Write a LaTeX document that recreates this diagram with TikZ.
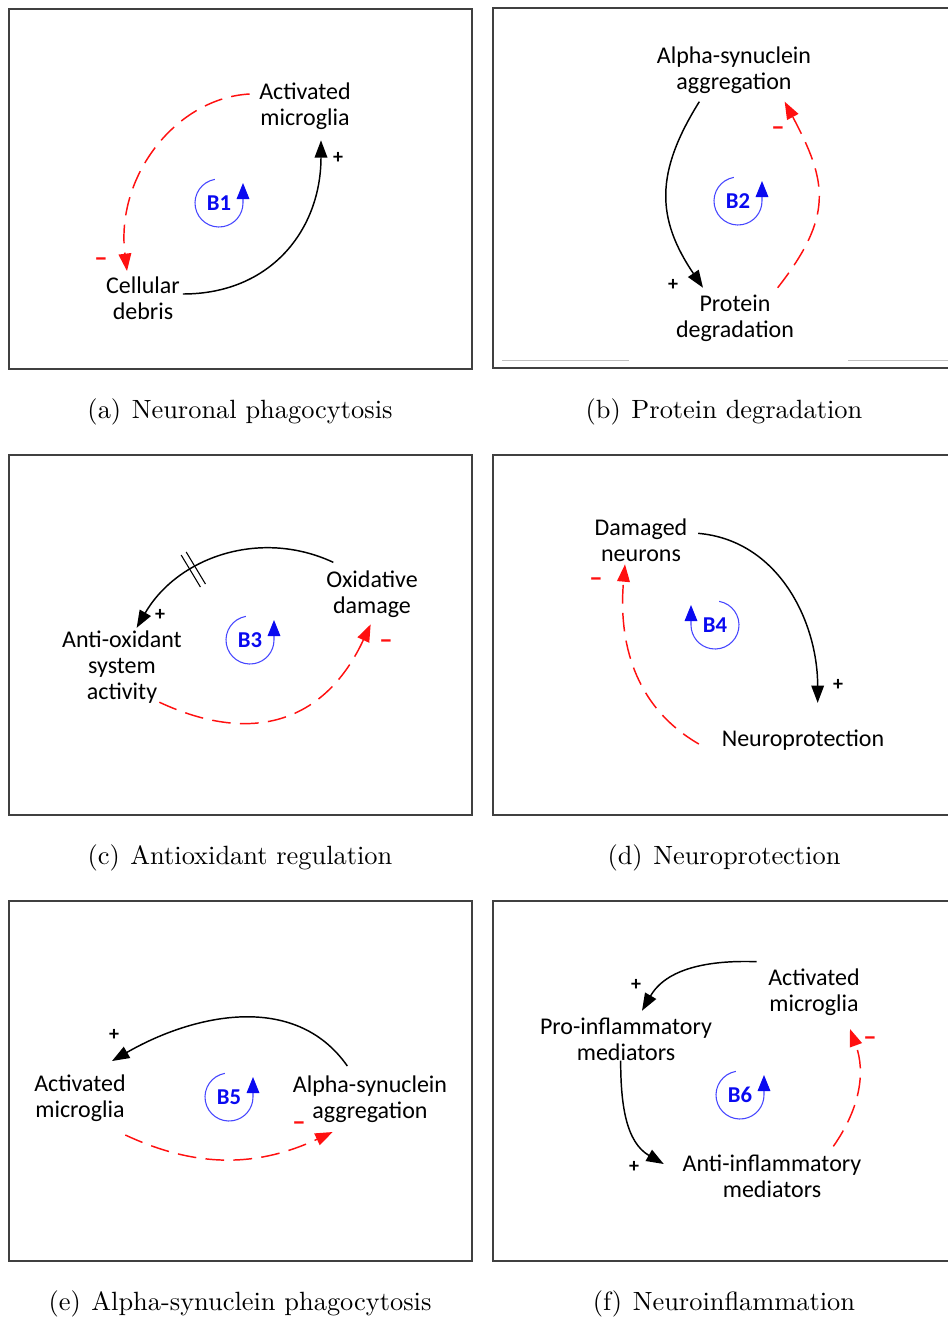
\documentclass[tikz,border=0pt]{standalone}
\usepackage{fontspec}
\usepackage{graphicx}
\newfontfamily\cldfont{Carlito}
\usepackage{xcolor}
\definecolor{cldRed}{HTML}{FF1010}
\definecolor{cldBlue}{HTML}{0A0AF0}
\definecolor{cldLoop}{HTML}{4646FF}
\definecolor{cldFrame}{HTML}{404040}
\usetikzlibrary{arrows.meta, decorations.markings}
\newcommand{\subcaptext}[1]{\scalebox{1.98}{\fontsize{10}{12}\selectfont #1}}

\begin{document}
\begin{tikzpicture}[
  x=0.75pt, y=0.75pt,
  var/.style={font=\cldfont\fontsize{18}{19.5}\selectfont, align=center, inner sep=2pt},
  subcap/.style={inner sep=1pt},
  frame/.style={draw=cldFrame, line width=1.1pt},
  poslink/.style={-{Triangle[length=13pt,width=9.5pt]}, line width=1.1pt},
  neglink/.style={-{Triangle[length=13pt,width=9.5pt]}, draw=cldRed, line width=1.1pt,
              dash pattern=on 14pt off 7pt},
  plus/.style={font=\cldfont\bfseries\fontsize{15}{15}\selectfont},
  minus/.style={text=cldRed, font=\cldfont\bfseries\fontsize{20}{20}\selectfont},
  loopc/.style={draw=cldLoop, line width=0.8pt, -{Triangle[length=12pt,width=9.5pt,color=cldBlue]}},
  looptxt/.style={text=cldBlue, font=\cldfont\bfseries\fontsize{17}{17}\selectfont},
  delay/.style={postaction={decorate}, decoration={markings, mark=at position 0.64 with
                {\draw[-, line width=0.8pt] (-2.2pt,-14pt) -- (-2.2pt,14pt) (2.2pt,-14pt) -- (2.2pt,14pt);}}}
]
\useasboundingbox (0,0) rectangle (948,-1318);
\clip (0,0) rectangle (948,-1318);

% panel frames
\foreach \x/\y in {9/-9, 493/-8, 9/-455, 493/-455, 9/-901, 493/-901}
  \draw[frame] (\x,\y) rectangle ++(463,-360);
\draw[gray!50, line width=0.6pt] (502,-360) -- (629,-360) (848,-360) -- (948,-360);

% (a) neuronal phagocytosis
\node[var] (am1) at (305,-106) {Activated\\microglia};
\node[var] (cd1) at (143,-298) {Cellular\\debris};
\draw[poslink] ([yshift=3pt]cd1.east) to[out=0, in=-90, looseness=1.1] ([xshift=12pt,yshift=-6pt]am1.south);
\draw[neglink] ([xshift=-5pt,yshift=9pt]am1.west) .. controls +(183:72) and +(97:97) .. ([xshift=-12pt,yshift=2pt]cd1.north);
\node[plus] (p1) at (338,-158) {+};
\node[minus] (m1) at (101,-262) {–};

% (b) protein degradation
\node[var] (as2) at (734,-70) {Alpha-synuclein\\aggregation};
\node[var] (pd2) at (735,-318) {Protein\\degradation};
\draw[poslink] ([xshift=-26pt,yshift=-4pt]as2.south) to[out=-122, in=124, looseness=1.15] ([xshift=-24pt,yshift=3pt]pd2.north);
\draw[neglink] ([xshift=32pt,yshift=3pt]pd2.north) to[out=52, in=-62, looseness=1.25] ([xshift=38pt,yshift=-4pt]as2.south);
\node[plus] (p2) at (673,-285) {+};
\node[minus] (m2) at (778,-131) {–};

% (c) antioxidant regulation
\node[var] (od3) at (372,-594) {Oxidative\\damage};
\node[var] (ao3) at (122,-667) {Anti-oxidant\\system\\activity};
\draw[poslink, delay] ([xshift=-29pt,yshift=4pt]od3.north) to[out=155, in=60] ([xshift=11pt]ao3.north);
\draw[neglink] ([xshift=28pt,yshift=3pt]ao3.south) to[out=-25, in=-115, looseness=1.2] ([xshift=-1pt,yshift=-3pt]od3.south);
\node[plus] (p3) at (160,-615) {+};
\node[minus] (m3) at (386,-644) {–};

% (d) neuroprotection
\node[var] (dn4) at (641,-540) {Damaged\\neurons};
\node[var] (np4) at (803,-740) {Neuroprotection};
\draw[poslink] ([xshift=6pt,yshift=5pt]dn4.east) to[out=-5, in=90] ([xshift=11pt,yshift=18pt]np4.north);
\draw[neglink] ([xshift=-15pt,yshift=-3pt]np4.west) to[out=150, in=-95] ([xshift=-12pt]dn4.south);
\node[plus] (p4) at (838,-685) {+};
\node[minus] (m4) at (596,-582) {–};

% (e) alpha-synuclein phagocytosis
\node[var] (am5) at (80,-1098) {Activated\\microglia};
\node[var] (as5) at (370,-1099) {Alpha-synuclein\\aggregation};
\draw[poslink] ([xshift=-17pt,yshift=5pt]as5.north) to[out=125, in=30] ([xshift=24pt,yshift=8pt]am5.north);
\draw[neglink] ([xshift=34pt,yshift=-8pt]am5.south) to[out=-25, in=-155] ([xshift=-28pt,yshift=-5pt]as5.south);
\node[plus] (p5) at (114,-1035) {+};
\node[minus] (m5) at (299,-1126) {–};

% (f) neuroinflammation
\node[var] (am6) at (814,-992) {Activated\\microglia};
\node[var] (pi6) at (626,-1039) {Pro-inflammatory\\mediators};
\node[var] (ai6) at (772,-1176) {Anti-inflammatory\\mediators};
\draw[poslink] ([xshift=-43pt,yshift=3pt]am6.north) to[out=178, in=60] ([xshift=12pt,yshift=3pt]pi6.north);
\draw[poslink] ([xshift=-4pt,yshift=2pt]pi6.south) to[out=-90, in=150] ([xshift=-12pt,yshift=9pt]ai6.west);
\draw[neglink] ([xshift=46pt,yshift=4pt]ai6.north) to[out=55, in=-70] ([xshift=27pt,yshift=-8pt]am6.south);
\node[plus] (p6a) at (636,-985) {+};
\node[plus] (p6b) at (634,-1167) {+};
\node[minus] (m6) at (870,-1041) {–};

% loop markers
\foreach \cx/\cy/\lbl in {219/-203/B1, 738/-201/B2, 250/-640/B3, 229/-1097/B5, 740/-1095/B6}{
  \node[looptxt] (loop\lbl) at (\cx,\cy) {\lbl};
  \draw[loopc] (loop\lbl.center) ++(100:24) arc (100:360:24) -- ++(0,20);
}
\node[looptxt] (loopB4) at (715,-625) {B4};
\draw[loopc] (loopB4.center) ++(80:24) arc (80:-180:24) -- ++(0,20);

% captions
\node[subcap] (capa) at (240,-412) {\subcaptext{(a)\hspace{0.4em}Neuronal phagocytosis}};
\node[subcap] (capb) at (724,-412) {\subcaptext{(b)\hspace{0.4em}Protein degradation}};
\node[subcap] (capc) at (240,-858) {\subcaptext{(c)\hspace{0.4em}Antioxidant regulation}};
\node[subcap] (capd) at (724,-858) {\subcaptext{(d)\hspace{0.4em}Neuroprotection}};
\node[subcap] (cape) at (240,-1304) {\subcaptext{(e)\hspace{0.4em}Alpha-synuclein phagocytosis}};
\node[subcap] (capf) at (724,-1304) {\subcaptext{(f)\hspace{0.4em}Neuroinflammation}};
\end{tikzpicture}
\end{document}
